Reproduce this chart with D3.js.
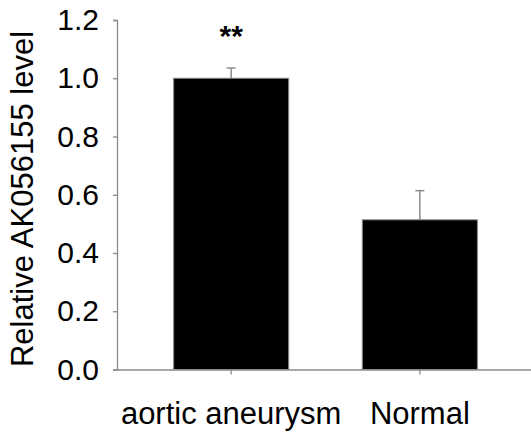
<!DOCTYPE html>
<html>
<head>
<meta charset="utf-8">
<script src="https://cdn.jsdelivr.net/npm/d3@7"></script>
<style>
  body { margin: 0; background: #fff; }
  svg { display: block; font-family: "Liberation Sans", Arial, sans-serif; }
  .axis path, .axis line { stroke: #8a8a8a; stroke-width: 1.3px; }
  .axis text { fill: #000; font-size: 30px; }
  .axis--x text { font-size: 31px; }
</style>
</head>
<body>
<script>
(function () {
  'use strict';

  // data
  const categories = ['aortic aneurysm', 'Normal'];
  const values = [1.0, 0.514];
  const errors = [0.035, 0.10];
  const marks = ['**', ''];
  const yTicks = [0, 0.2, 0.4, 0.6, 0.8, 1.0, 1.2];

  const width = 531, height = 432;
  const plot = { left: 117, right: 534, top: 20, bottom: 369.5 };

  const svg = d3.select('body')
    .append('svg')
    .attr('width', width)
    .attr('height', height);

  // scales
  const xScale = d3.scaleBand()
    .domain(categories)
    .range([plot.left, plot.right])
    .paddingInner(0.39)
    .paddingOuter(0.3);

  const yScale = d3.scaleLinear()
    .domain([0, 1.2])
    .range([plot.bottom, plot.top]);

  // y axis
  const yAxis = d3.axisLeft(yScale)
    .tickValues(yTicks)
    .tickFormat(d3.format('.1f'))
    .tickSize(4)
    .tickPadding(14);

  svg.append('g')
    .attr('class', 'axis')
    .attr('transform', `translate(${plot.left},0)`)
    .call(yAxis);

  // x axis
  const xAxis = d3.axisBottom(xScale)
    .tickSize(5)
    .tickSizeOuter(0)
    .tickPadding(27);

  svg.append('g')
    .attr('class', 'axis axis--x')
    .attr('transform', `translate(0,${plot.bottom})`)
    .call(xAxis);

  // y label
  svg.append('text')
    .attr('transform', `translate(33,199) rotate(-90)`)
    .attr('text-anchor', 'middle')
    .attr('font-size', '31px')
    .attr('fill', '#000')
    .text('Relative AK056155 level');

  // bars
  svg.append('g')
    .selectAll('rect')
    .data(categories)
    .enter()
    .append('rect')
    .attr('x', d => xScale(d))
    .attr('y', (d, i) => yScale(values[i]))
    .attr('width', xScale.bandwidth())
    .attr('height', (d, i) => yScale(0) - yScale(values[i]))
    .attr('fill', '#000')
    .attr('stroke', '#8a8a8a')
    .attr('stroke-width', 1);

  // error bars (upper only)
  const err = svg.append('g')
    .attr('stroke', '#8a8a8a')
    .attr('stroke-width', 1.5);

  categories.forEach((c, i) => {
    const cx = xScale(c) + xScale.bandwidth() / 2;
    const top = yScale(values[i] + errors[i]);
    err.append('line')
      .attr('x1', cx).attr('x2', cx)
      .attr('y1', yScale(values[i])).attr('y2', top);
    err.append('line')
      .attr('x1', cx - 4.5).attr('x2', cx + 4.5)
      .attr('y1', top).attr('y2', top);
  });

  // significance
  svg.append('g')
    .selectAll('text')
    .data(categories)
    .enter()
    .append('text')
    .attr('x', d => xScale(d) + xScale.bandwidth() / 2)
    .attr('y', 46)
    .attr('text-anchor', 'middle')
    .attr('font-size', '30px')
    .attr('font-weight', 'bold')
    .text((d, i) => marks[i]);
})();
</script>
</body>
</html>
